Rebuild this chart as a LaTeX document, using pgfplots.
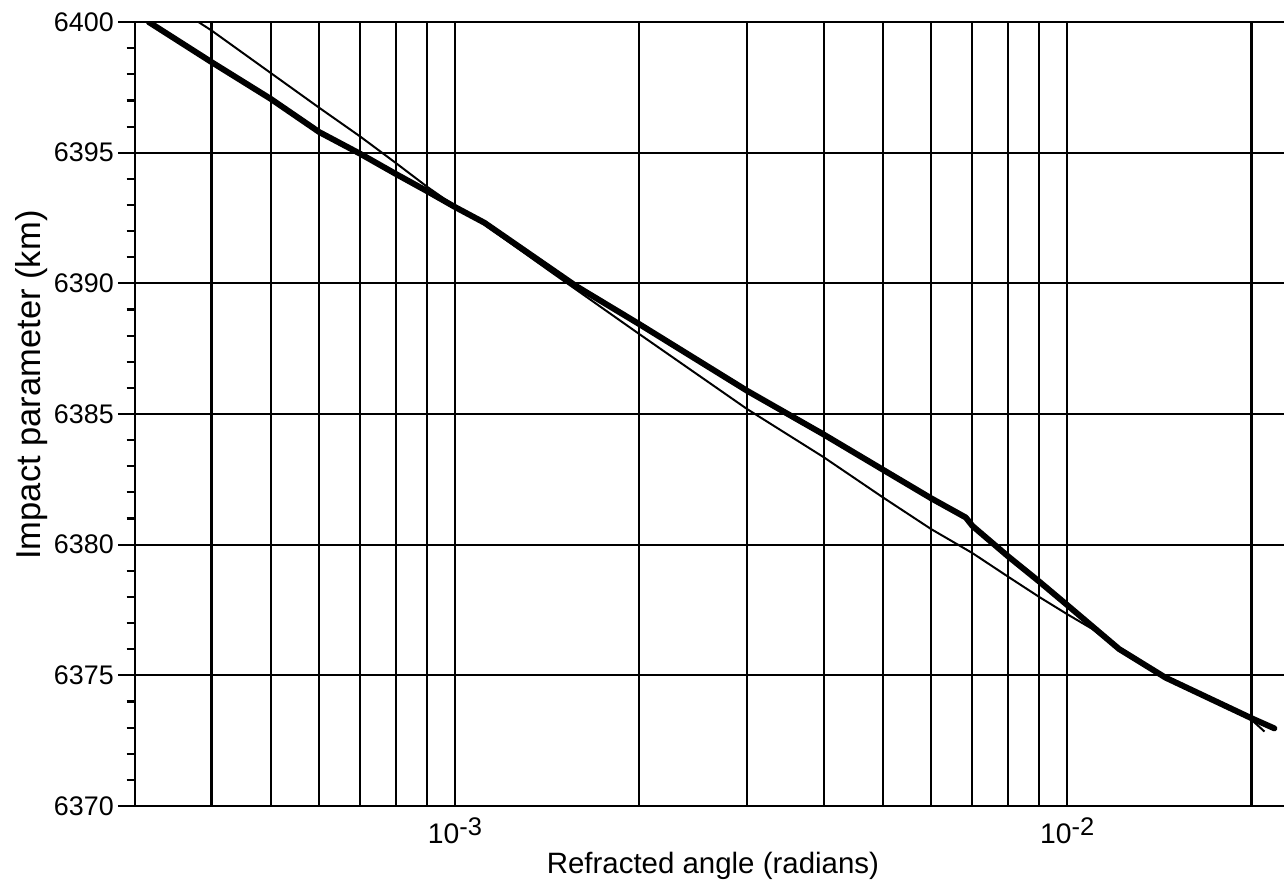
\documentclass[border=0pt]{standalone}
\usepackage{fontspec}
\setmainfont{Liberation Sans}
\usepackage{pgfplots}
\pgfplotsset{compat=1.18}
\newcommand{\tenpow}[1]{10\raisebox{2.8pt}{\fontsize{9}{9}\selectfont #1}}
\begin{document}
\begin{tikzpicture}
\begin{axis}[
  scale only axis,
  width=406pt, height=277pt,
  xmode=log,
  xmin=3e-4, xmax=2.26e-2,
  ymin=6370, ymax=6400,
  axis lines*=left,
  axis line style={line width=0.8pt},
  xtick={1e-3,1e-2},
  xticklabels={\tenpow{-3},\tenpow{-2}},
  minor xtick={4e-4,5e-4,6e-4,7e-4,8e-4,9e-4,2e-3,3e-3,4e-3,5e-3,6e-3,7e-3,8e-3,9e-3,2e-2},
  ytick={6370,6375,6380,6385,6390,6395,6400},
  minor ytick={6371,6372,6373,6374,6376,6377,6378,6379,6381,6382,6383,6384,6386,6387,6388,6389,6391,6392,6393,6394,6396,6397,6398,6399},
  xmajorgrids=true, xminorgrids=true, ymajorgrids=true, yminorgrids=false,
  major grid style={black, line width=0.75pt},
  minor grid style={black, line width=0.75pt},
  tick align=outside,
  major tick length=6pt, minor tick length=3pt,
  xtick style={draw=none},
  ytick style={black, line width=0.75pt},
  yticklabel style={font=\fontsize{9.5}{10}\selectfont, xshift=2pt,
    /pgf/number format/set thousands separator={},
    /pgf/number format/assume math mode=true},
  xticklabel style={font=\fontsize{10}{11}\selectfont, anchor=base, yshift=-7.1pt},
  xlabel={Refracted angle (radians)},
  ylabel={Impact parameter (km)},
  xlabel style={font=\fontsize{10.4}{12}\selectfont, at={(axis description cs:0.503,-0.077)}, anchor=center},
  ylabel style={font=\fontsize{12.2}{14}\selectfont, at={(axis description cs:-0.0896,0.537)}, anchor=center},
  clip=true,
]
\addplot[black, line width=2.1pt, line cap=round, line join=round] coordinates {
(3.16e-4,6400) (4e-4,6398.47) (5e-4,6397.06) (6e-4,6395.79) (7e-4,6394.96)
(8e-4,6394.19) (9e-4,6393.53) (1e-3,6392.92) (1.117e-3,6392.32) (1.576e-3,6389.90)
(2e-3,6388.44) (3e-3,6385.89) (4e-3,6384.22) (5e-3,6382.87) (6e-3,6381.77)
(6.83e-3,6381.04) (7e-3,6380.72) (8e-3,6379.56) (9e-3,6378.59) (1e-2,6377.69)
(1.215e-2,6376.01) (1.448e-2,6374.91) (2e-2,6373.36) (2.18e-2,6372.97)
};
\addplot[black, line width=0.7pt] coordinates {
(3.81e-4,6400) (4e-4,6399.68) (5e-4,6398.05) (6e-4,6396.72) (7e-4,6395.62)
(8e-4,6394.61) (9e-4,6393.70) (1e-3,6392.95) (1.117e-3,6392.25) (1.426e-3,6390.48)
(2e-3,6388.06) (3e-3,6385.19) (4e-3,6383.35) (5e-3,6381.81) (6e-3,6380.59)
(7e-3,6379.68) (8e-3,6378.78) (9e-3,6378.0) (1e-2,6377.34) (1.098e-2,6376.78)
(1.215e-2,6375.98) (1.448e-2,6374.88) (2e-2,6373.30) (2.1e-2,6372.85)
};
\end{axis}
\pgfresetboundingbox
\path[use as bounding box] ([xshift=-47.7pt,yshift=-27.2pt]current axis.south west) rectangle ([yshift=7.8pt]current axis.north east);
\end{tikzpicture}
\end{document}
